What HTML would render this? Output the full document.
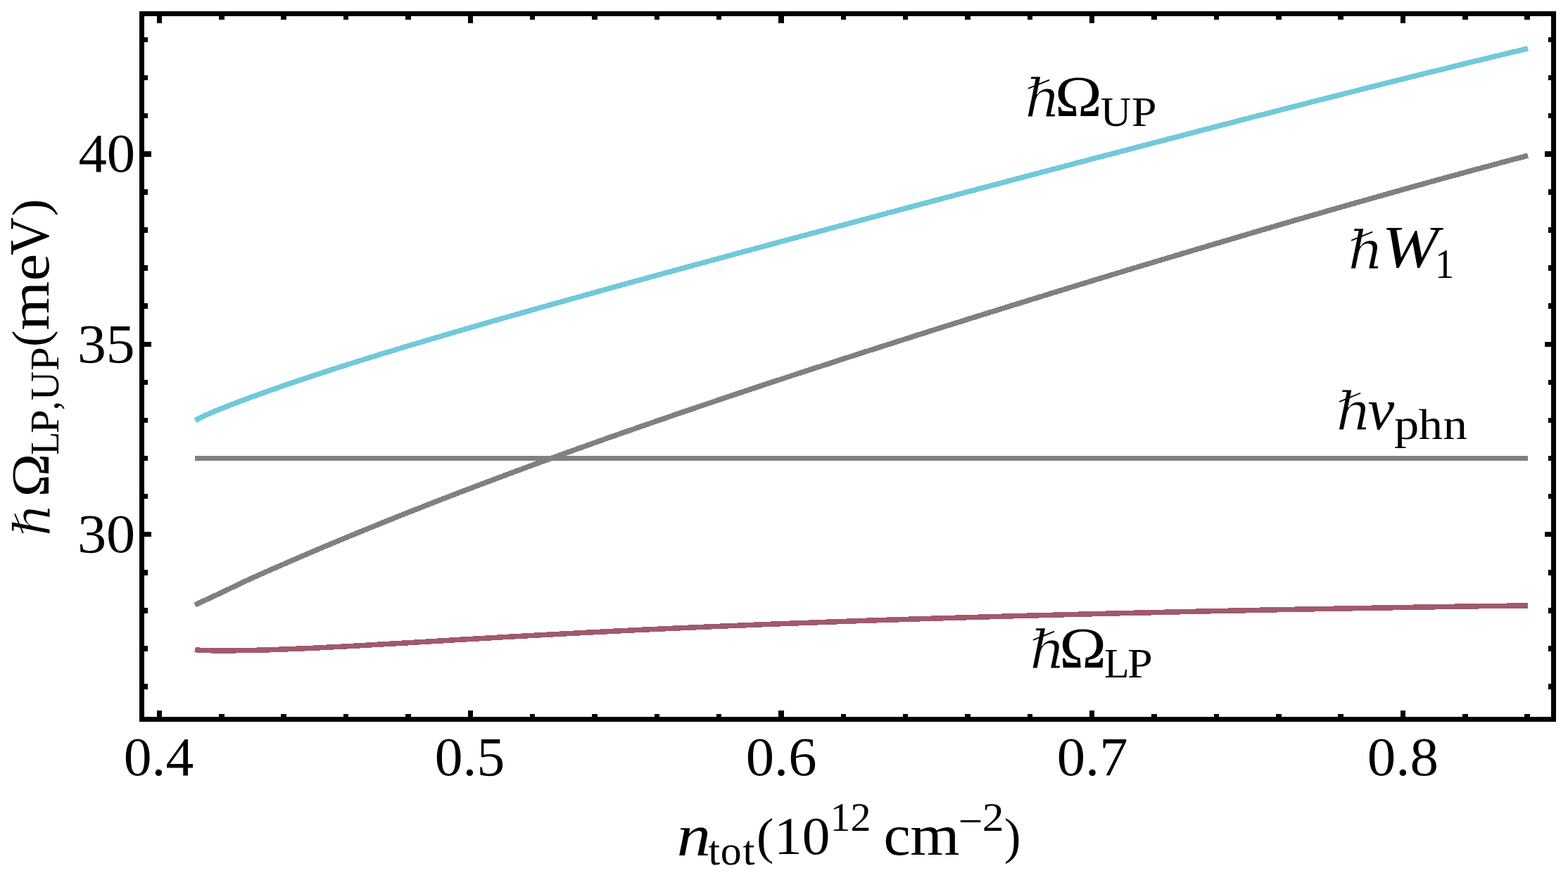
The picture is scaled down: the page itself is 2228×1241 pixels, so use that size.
<!DOCTYPE html>
<html lang="en">
<head>
<meta charset="utf-8">
<title>Plot</title>
<style>
html,body{margin:0;padding:0;background:#fff}
svg{display:block}
text{font-size:100px;fill:#000}
</style>
</head>
<body>
<svg width="2228" height="1241" viewBox="0 0 2228 1241">
<rect x="0" y="0" width="2228" height="1241" fill="#fff"/>
<g fill="none" stroke-width="7.5" stroke-linecap="butt" stroke-linejoin="round" shape-rendering="crispEdges">
<path stroke="#808080" stroke-width="7" d="M277 651.5 L2171 651.5"/>
<path stroke="#808080" d="M277.0 860.0 L280.0 858.6 L283.0 857.2 L286.0 855.8 L289.0 854.4 L292.0 853.0 L295.0 851.6 L298.0 850.2 L301.0 848.8 L304.0 847.4 L307.0 846.0 L310.0 844.6 L313.0 843.2 L316.0 841.8 L319.0 840.4 L322.0 838.9 L325.0 837.5 L328.0 836.0 L331.0 834.6 L334.0 833.2 L337.0 831.7 L340.0 830.3 L343.0 828.9 L346.0 827.4 L349.0 826.0 L352.0 824.6 L355.0 823.2 L358.0 821.8 L361.0 820.5 L364.0 819.1 L367.0 817.8 L370.0 816.5 L373.0 815.1 L376.0 813.8 L379.0 812.5 L382.0 811.1 L385.0 809.8 L388.0 808.5 L391.0 807.2 L394.0 805.9 L397.0 804.6 L400.0 803.3 L419.9 794.6 L439.8 786.1 L459.7 777.6 L479.6 769.3 L499.5 761.0 L519.4 752.9 L539.3 744.8 L559.2 736.8 L579.1 728.8 L599.0 721.0 L618.9 713.2 L638.8 705.5 L658.7 697.9 L678.6 690.3 L698.5 682.8 L718.4 675.3 L738.3 668.0 L758.2 660.6 L778.1 653.4 L798.0 646.2 L817.9 639.0 L837.8 631.9 L857.7 624.8 L877.6 617.8 L897.5 610.9 L917.4 604.0 L937.3 597.1 L957.2 590.2 L977.1 583.4 L997.0 576.7 L1016.9 570.0 L1036.8 563.3 L1056.7 556.6 L1076.6 550.0 L1096.5 543.4 L1116.4 536.9 L1136.3 530.3 L1156.2 523.8 L1176.1 517.4 L1196.0 510.9 L1215.9 504.5 L1235.8 498.1 L1255.7 491.7 L1275.6 485.4 L1295.4 479.0 L1315.3 472.7 L1335.2 466.4 L1355.1 460.2 L1375.0 453.9 L1394.9 447.7 L1414.8 441.5 L1434.7 435.3 L1454.6 429.1 L1474.5 423.0 L1494.4 416.8 L1514.3 410.7 L1534.2 404.6 L1554.1 398.5 L1574.0 392.5 L1593.9 386.4 L1613.8 380.4 L1633.7 374.4 L1653.6 368.4 L1673.5 362.5 L1693.4 356.5 L1713.3 350.6 L1733.2 344.7 L1753.1 338.8 L1773.0 332.9 L1792.9 327.0 L1812.8 321.2 L1832.7 315.4 L1852.6 309.6 L1872.5 303.9 L1892.4 298.1 L1912.3 292.4 L1932.2 286.8 L1952.1 281.1 L1972.0 275.5 L1991.9 269.9 L2011.8 264.3 L2031.7 258.8 L2051.6 253.3 L2071.5 247.9 L2091.4 242.4 L2111.3 237.1 L2131.2 231.7 L2151.1 226.4 L2171.0 221.2"/>
<path stroke="#72c9db" d="M277.7 597.9 L280.0 596.3 L283.0 594.7 L286.0 593.2 L289.0 591.7 L292.0 590.4 L295.0 589.0 L298.0 587.7 L301.0 586.4 L304.0 585.1 L307.0 583.9 L310.0 582.7 L313.0 581.4 L316.0 580.2 L319.0 579.1 L322.0 577.9 L325.0 576.7 L328.0 575.5 L331.0 574.4 L334.0 573.2 L337.0 572.1 L340.0 570.9 L343.0 569.8 L346.0 568.7 L349.0 567.6 L352.0 566.5 L355.0 565.3 L358.0 564.2 L361.0 563.1 L364.0 562.1 L367.0 561.0 L370.0 559.9 L373.0 558.8 L376.0 557.7 L379.0 556.7 L382.0 555.6 L385.0 554.5 L388.0 553.5 L391.0 552.4 L394.0 551.4 L397.0 550.3 L400.0 549.3 L419.9 542.5 L439.8 535.8 L459.7 529.3 L479.6 522.8 L499.5 516.5 L519.4 510.3 L539.3 504.1 L559.2 498.0 L579.1 492.0 L599.0 486.1 L618.9 480.2 L638.8 474.3 L658.7 468.5 L678.6 462.8 L698.5 457.0 L718.4 451.3 L738.3 445.7 L758.2 440.0 L778.1 434.4 L798.0 428.9 L817.9 423.3 L837.8 417.8 L857.7 412.2 L877.6 406.7 L897.5 401.2 L917.4 395.8 L937.3 390.3 L957.2 384.9 L977.1 379.4 L997.0 374.0 L1016.9 368.6 L1036.8 363.2 L1056.7 357.8 L1076.6 352.5 L1096.5 347.1 L1116.4 341.7 L1136.3 336.4 L1156.2 331.1 L1176.1 325.7 L1196.0 320.4 L1215.9 315.1 L1235.8 309.8 L1255.7 304.4 L1275.6 299.1 L1295.4 293.8 L1315.3 288.5 L1335.2 283.3 L1355.1 278.0 L1375.0 272.7 L1394.9 267.4 L1414.8 262.2 L1434.7 256.9 L1454.6 251.6 L1474.5 246.4 L1494.4 241.1 L1514.3 235.9 L1534.2 230.6 L1554.1 225.4 L1574.0 220.2 L1593.9 215.0 L1613.8 209.8 L1633.7 204.6 L1653.6 199.4 L1673.5 194.2 L1693.4 189.0 L1713.3 183.8 L1733.2 178.6 L1753.1 173.5 L1773.0 168.3 L1792.9 163.2 L1812.8 158.1 L1832.7 153.0 L1852.6 147.9 L1872.5 142.8 L1892.4 137.7 L1912.3 132.7 L1932.2 127.7 L1952.1 122.6 L1972.0 117.6 L1991.9 112.7 L2011.8 107.7 L2031.7 102.8 L2051.6 97.9 L2071.5 93.0 L2091.4 88.1 L2111.3 83.3 L2131.2 78.5 L2151.1 73.7 L2171.0 69.0"/>
<path stroke="#a05a6c" d="M277.0 923.3 L280.0 923.9 L283.0 924.2 L286.0 924.4 L289.0 924.5 L292.0 924.6 L295.0 924.7 L298.0 924.7 L301.0 924.8 L304.0 924.8 L307.0 924.8 L310.0 924.8 L313.0 924.9 L316.0 924.9 L319.0 924.9 L322.0 924.9 L325.0 924.8 L328.0 924.8 L331.0 924.8 L334.0 924.8 L337.0 924.7 L340.0 924.7 L343.0 924.7 L346.0 924.6 L349.0 924.6 L352.0 924.5 L355.0 924.5 L358.0 924.4 L361.0 924.3 L364.0 924.3 L367.0 924.2 L370.0 924.1 L373.0 924.0 L376.0 923.9 L379.0 923.8 L382.0 923.8 L385.0 923.7 L388.0 923.6 L391.0 923.5 L394.0 923.4 L397.0 923.2 L400.0 923.1 L419.9 922.3 L439.8 921.5 L459.7 920.5 L479.6 919.5 L499.5 918.4 L519.4 917.3 L539.3 916.1 L559.2 915.0 L579.1 913.8 L599.0 912.6 L618.9 911.4 L638.8 910.2 L658.7 909.0 L678.6 907.9 L698.5 906.7 L718.4 905.5 L738.3 904.4 L758.2 903.3 L778.1 902.2 L798.0 901.1 L817.9 900.1 L837.8 899.0 L857.7 898.0 L877.6 897.0 L897.5 896.0 L917.4 895.0 L937.3 894.1 L957.2 893.2 L977.1 892.3 L997.0 891.4 L1016.9 890.5 L1036.8 889.7 L1056.7 888.9 L1076.6 888.0 L1096.5 887.2 L1116.4 886.5 L1136.3 885.7 L1156.2 885.0 L1176.1 884.2 L1196.0 883.5 L1215.9 882.8 L1235.8 882.1 L1255.7 881.4 L1275.6 880.8 L1295.4 880.1 L1315.3 879.5 L1335.2 878.9 L1355.1 878.3 L1375.0 877.7 L1394.9 877.1 L1414.8 876.5 L1434.7 875.9 L1454.6 875.4 L1474.5 874.8 L1494.4 874.3 L1514.3 873.7 L1534.2 873.2 L1554.1 872.7 L1574.0 872.2 L1593.9 871.7 L1613.8 871.2 L1633.7 870.8 L1653.6 870.3 L1673.5 869.8 L1693.4 869.4 L1713.3 868.9 L1733.2 868.5 L1753.1 868.1 L1773.0 867.7 L1792.9 867.2 L1812.8 866.8 L1832.7 866.4 L1852.6 866.0 L1872.5 865.7 L1892.4 865.3 L1912.3 864.9 L1932.2 864.6 L1952.1 864.2 L1972.0 863.9 L1991.9 863.5 L2011.8 863.2 L2031.7 862.9 L2051.6 862.5 L2071.5 862.2 L2091.4 861.9 L2111.3 861.6 L2131.2 861.4 L2151.1 861.1 L2171.0 860.8"/>
</g>
<g fill="#000" shape-rendering="crispEdges">
<rect x="223" y="20" width="7" height="13"/>
<rect x="223" y="1010" width="7" height="12"/>
<rect x="311" y="20" width="8" height="8"/>
<rect x="311" y="1015" width="8" height="7"/>
<rect x="399" y="20" width="8" height="8"/>
<rect x="399" y="1015" width="8" height="7"/>
<rect x="488" y="20" width="7" height="8"/>
<rect x="488" y="1015" width="7" height="7"/>
<rect x="576" y="20" width="8" height="8"/>
<rect x="576" y="1015" width="8" height="7"/>
<rect x="665" y="20" width="7" height="13"/>
<rect x="665" y="1010" width="7" height="12"/>
<rect x="753" y="20" width="7" height="8"/>
<rect x="753" y="1015" width="7" height="7"/>
<rect x="841" y="20" width="8" height="8"/>
<rect x="841" y="1015" width="8" height="7"/>
<rect x="930" y="20" width="7" height="8"/>
<rect x="930" y="1015" width="7" height="7"/>
<rect x="1018" y="20" width="7" height="8"/>
<rect x="1018" y="1015" width="7" height="7"/>
<rect x="1106" y="20" width="8" height="13"/>
<rect x="1106" y="1010" width="8" height="12"/>
<rect x="1195" y="20" width="7" height="8"/>
<rect x="1195" y="1015" width="7" height="7"/>
<rect x="1283" y="20" width="7" height="8"/>
<rect x="1283" y="1015" width="7" height="7"/>
<rect x="1371" y="20" width="8" height="8"/>
<rect x="1371" y="1015" width="8" height="7"/>
<rect x="1460" y="20" width="7" height="8"/>
<rect x="1460" y="1015" width="7" height="7"/>
<rect x="1548" y="20" width="7" height="13"/>
<rect x="1548" y="1010" width="7" height="12"/>
<rect x="1636" y="20" width="8" height="8"/>
<rect x="1636" y="1015" width="8" height="7"/>
<rect x="1725" y="20" width="7" height="8"/>
<rect x="1725" y="1015" width="7" height="7"/>
<rect x="1813" y="20" width="8" height="8"/>
<rect x="1813" y="1015" width="8" height="7"/>
<rect x="1901" y="20" width="8" height="8"/>
<rect x="1901" y="1015" width="8" height="7"/>
<rect x="1990" y="20" width="7" height="13"/>
<rect x="1990" y="1010" width="7" height="12"/>
<rect x="2078" y="20" width="8" height="8"/>
<rect x="2078" y="1015" width="8" height="7"/>
<rect x="2166" y="20" width="8" height="8"/>
<rect x="2166" y="1015" width="8" height="7"/>
<rect x="202" y="972" width="8" height="8"/>
<rect x="2200" y="972" width="7" height="8"/>
<rect x="202" y="918" width="8" height="8"/>
<rect x="2200" y="918" width="7" height="8"/>
<rect x="202" y="864" width="8" height="8"/>
<rect x="2200" y="864" width="7" height="8"/>
<rect x="202" y="810" width="8" height="8"/>
<rect x="2200" y="810" width="7" height="8"/>
<rect x="202" y="756" width="13" height="7"/>
<rect x="2195" y="756" width="12" height="7"/>
<rect x="202" y="702" width="8" height="7"/>
<rect x="2200" y="702" width="7" height="7"/>
<rect x="202" y="648" width="8" height="7"/>
<rect x="2200" y="648" width="7" height="7"/>
<rect x="202" y="594" width="8" height="7"/>
<rect x="2200" y="594" width="7" height="7"/>
<rect x="202" y="540" width="8" height="7"/>
<rect x="2200" y="540" width="7" height="7"/>
<rect x="202" y="486" width="13" height="7"/>
<rect x="2195" y="486" width="12" height="7"/>
<rect x="202" y="431" width="8" height="8"/>
<rect x="2200" y="431" width="7" height="8"/>
<rect x="202" y="377" width="8" height="8"/>
<rect x="2200" y="377" width="7" height="8"/>
<rect x="202" y="323" width="8" height="8"/>
<rect x="2200" y="323" width="7" height="8"/>
<rect x="202" y="269" width="8" height="8"/>
<rect x="2200" y="269" width="7" height="8"/>
<rect x="202" y="215" width="13" height="8"/>
<rect x="2195" y="215" width="12" height="8"/>
<rect x="202" y="161" width="8" height="7"/>
<rect x="2200" y="161" width="7" height="7"/>
<rect x="202" y="107" width="8" height="7"/>
<rect x="2200" y="107" width="7" height="7"/>
<rect x="202" y="53" width="8" height="7"/>
<rect x="2200" y="53" width="7" height="7"/>
</g>
<rect x="201.5" y="19.5" width="2006" height="1003" fill="none" stroke="#000" stroke-width="7" shape-rendering="crispEdges"/>
<g>
<text transform="matrix(0.8085 0 0 0.7837 111.38 244.22)" font-family='"Liberation Serif",serif'>40</text>
<text transform="matrix(0.8164 0 0 0.7926 109.92 515.31)" font-family='"Liberation Serif",serif'>35</text>
<text transform="matrix(0.8240 0 0 0.7881 109.89 785.21)" font-family='"Liberation Serif",serif'>30</text>
<text transform="matrix(0.7958 0 0 0.7824 175.72 1101.93)" font-family='"Liberation Serif",serif'>0.4</text>
<text transform="matrix(0.7957 0 0 0.7824 617.82 1101.93)" font-family='"Liberation Serif",serif'>0.5</text>
<text transform="matrix(0.8068 0 0 0.7824 1059.77 1101.93)" font-family='"Liberation Serif",serif'>0.6</text>
<text transform="matrix(0.8068 0 0 0.7824 1501.77 1101.93)" font-family='"Liberation Serif",serif'>0.7</text>
<text transform="matrix(0.8102 0 0 0.7824 1942.86 1101.93)" font-family='"Liberation Serif",serif'>0.8</text>
<text transform="matrix(0.9657 0 0 0.8362 961.82 1216.00)" font-family='"Liberation Serif",serif' font-style="italic">n</text>
<text transform="matrix(0.5904 0 0 0.5904 0 1229.21)" font-family='"Liberation Serif",serif'><tspan x="1704.97" textLength="28.15" lengthAdjust="spacingAndGlyphs">t</tspan><tspan x="1733.86" textLength="50.61" lengthAdjust="spacingAndGlyphs">o</tspan><tspan x="1787.94" textLength="28.86" lengthAdjust="spacingAndGlyphs">t</tspan></text>
<text transform="matrix(0.7294 0 0 0.7094 1075.12 1212.93)" font-family='"Liberation Serif",serif'>(</text>
<text transform="matrix(0.7931 0 0 0.7659 1100.06 1214.23)" font-family='"Liberation Serif",serif'>10</text>
<text transform="matrix(0.5808 0 0 0.5600 1179.52 1181.10)" font-family='"Liberation Serif",serif'>12</text>
<text transform="matrix(0.8167 0 0 0.8167 0 1215.18)" font-family='"Liberation Serif",serif'><tspan x="1537.31" textLength="46.81" lengthAdjust="spacingAndGlyphs">c</tspan><tspan x="1583.50" textLength="86.20" lengthAdjust="spacingAndGlyphs">m</tspan></text>
<text transform="matrix(0.6129 0 0 0.6200 1361.64 1188.16)" font-family='"Liberation Serif",serif'>−</text>
<text transform="matrix(0.6150 0 0 0.5600 1395.63 1181.10)" font-family='"Liberation Serif",serif'>2</text>
<text transform="matrix(0.7146 0 0 0.7094 1426.68 1212.93)" font-family='"Liberation Serif",serif'>)</text>
<text transform="matrix(0 -0.7221 0.7168 0 70.74 762.35)" font-family='"DejaVu Serif",serif' stroke="#fff" stroke-width="1.3">ℏ</text>
<text transform="matrix(0 -0.8313 0.7668 0 68.90 706.56)" font-family='"Liberation Serif",serif'>Ω</text>
<text transform="matrix(0 -0.5622 0.5622 0 82.63 0)" font-family='"Liberation Serif",serif'><tspan x="-1150.28" textLength="58.71" lengthAdjust="spacingAndGlyphs">L</tspan><tspan x="-1095.66" textLength="59.76" lengthAdjust="spacingAndGlyphs">P</tspan><tspan x="-1037.12" textLength="22.53" lengthAdjust="spacingAndGlyphs">,</tspan><tspan x="-1012.66" textLength="73.67" lengthAdjust="spacingAndGlyphs">U</tspan><tspan x="-937.37" textLength="59.96" lengthAdjust="spacingAndGlyphs">P</tspan></text>
<text transform="matrix(0 -0.7059 0.7094 0 67.13 493.08)" font-family='"Liberation Serif",serif'>(</text>
<text transform="matrix(0 -0.7940 0.7940 0 68.81 0)" font-family='"Liberation Serif",serif'><tspan x="-591.54" textLength="88.20" lengthAdjust="spacingAndGlyphs">m</tspan><tspan x="-503.12" textLength="48.80" lengthAdjust="spacingAndGlyphs">e</tspan><tspan x="-456.72" textLength="67.82" lengthAdjust="spacingAndGlyphs">V</tspan></text>
<text transform="matrix(0 -0.7456 0.7127 0 67.15 307.42)" font-family='"Liberation Serif",serif'>)</text>
<text transform="matrix(0.7897 0 0 0.7557 1456.16 165.77)" font-family='"DejaVu Serif",serif' stroke="#fff" stroke-width="1.3">ℏ</text>
<text transform="matrix(0.9000 0 0 0.8302 1498.98 165.00)" font-family='"Liberation Serif",serif'>Ω</text>
<text transform="matrix(0.5985 0 0 0.5985 0 179.20)" font-family='"Liberation Serif",serif'><tspan x="2612.70" textLength="72.75" lengthAdjust="spacingAndGlyphs">U</tspan><tspan x="2686.52" textLength="59.78" lengthAdjust="spacingAndGlyphs">P</tspan></text>
<text transform="matrix(0.7877 0 0 0.7557 1463.27 949.67)" font-family='"DejaVu Serif",serif' stroke="#fff" stroke-width="1.3">ℏ</text>
<text transform="matrix(0.8984 0 0 0.8302 1505.18 949.00)" font-family='"Liberation Serif",serif'>Ω</text>
<text transform="matrix(0.5954 0 0 0.5954 0 963.00)" font-family='"Liberation Serif",serif'><tspan x="2635.20" textLength="59.78" lengthAdjust="spacingAndGlyphs">L</tspan><tspan x="2690.50" textLength="59.89" lengthAdjust="spacingAndGlyphs">P</tspan></text>
<text transform="matrix(0.7856 0 0 0.7557 1915.48 381.57)" font-family='"DejaVu Serif",serif' stroke="#fff" stroke-width="1.3">ℏ</text>
<text transform="matrix(0.9655 0 0 0.8507 1963.38 379.72)" font-family='"Liberation Serif",serif' font-style="italic">W</text>
<text transform="matrix(0.5475 0 0 0.5939 2039.11 395.20)" font-family='"Liberation Serif",serif'>1</text>
<text transform="matrix(0.7856 0 0 0.7517 1898.38 610.56)" font-family='"DejaVu Serif",serif' stroke="#fff" stroke-width="1.3">ℏ</text>
<text transform="matrix(0.8488 0 0 0.8234 1943.43 609.88)" font-family='"Liberation Serif",serif' font-style="italic">ν</text>
<text transform="matrix(0.6061 0 0 0.6061 0 624.12)" font-family='"Liberation Serif",serif'><tspan x="3268.39" textLength="58.21" lengthAdjust="spacingAndGlyphs">p</tspan><tspan x="3325.26" textLength="56.84" lengthAdjust="spacingAndGlyphs">h</tspan><tspan x="3383.24" textLength="56.90" lengthAdjust="spacingAndGlyphs">n</tspan></text>
</g>
</svg>
</body>
</html>
